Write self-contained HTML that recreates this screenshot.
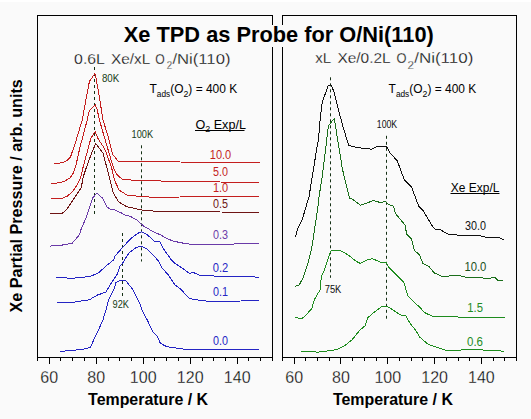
<!DOCTYPE html><html><head><meta charset="utf-8"><style>html,body{margin:0;padding:0;background:#fafafa;}svg{display:block;}text{font-family:"Liberation Sans",sans-serif;} .thin{stroke:#fafafa;stroke-width:0.28px;paint-order:normal;}</style></head><body>
<svg width="531" height="419" viewBox="0 0 531 419">
<rect x="0" y="0" width="531" height="419" fill="#fafafa"/>
<rect x="0" y="0" width="531" height="2" fill="#fff"/>
<rect x="37" y="15" width="236" height="1" fill="#000"/>
<rect x="37" y="357" width="236" height="1" fill="#000"/>
<rect x="37" y="15" width="1" height="343" fill="#000"/>
<rect x="272" y="15" width="1" height="343" fill="#000"/>
<rect x="37" y="358" width="1" height="3" fill="#000"/>
<rect x="49" y="358" width="1" height="6" fill="#000"/>
<rect x="60" y="358" width="1" height="3" fill="#000"/>
<rect x="72" y="358" width="1" height="3" fill="#000"/>
<rect x="84" y="358" width="1" height="3" fill="#000"/>
<rect x="96" y="358" width="1" height="6" fill="#000"/>
<rect x="108" y="358" width="1" height="3" fill="#000"/>
<rect x="119" y="358" width="1" height="3" fill="#000"/>
<rect x="131" y="358" width="1" height="3" fill="#000"/>
<rect x="143" y="358" width="1" height="6" fill="#000"/>
<rect x="154" y="358" width="1" height="3" fill="#000"/>
<rect x="166" y="358" width="1" height="3" fill="#000"/>
<rect x="178" y="358" width="1" height="3" fill="#000"/>
<rect x="190" y="358" width="1" height="6" fill="#000"/>
<rect x="202" y="358" width="1" height="3" fill="#000"/>
<rect x="213" y="358" width="1" height="3" fill="#000"/>
<rect x="225" y="358" width="1" height="3" fill="#000"/>
<rect x="237" y="358" width="1" height="6" fill="#000"/>
<rect x="248" y="358" width="1" height="3" fill="#000"/>
<rect x="260" y="358" width="1" height="3" fill="#000"/>
<rect x="272" y="358" width="1" height="3" fill="#000"/>
<rect x="282" y="15" width="235" height="1" fill="#000"/>
<rect x="282" y="357" width="235" height="1" fill="#000"/>
<rect x="282" y="15" width="1" height="343" fill="#000"/>
<rect x="516" y="15" width="1" height="343" fill="#000"/>
<rect x="282" y="358" width="1" height="3" fill="#000"/>
<rect x="294" y="358" width="1" height="6" fill="#000"/>
<rect x="305" y="358" width="1" height="3" fill="#000"/>
<rect x="317" y="358" width="1" height="3" fill="#000"/>
<rect x="329" y="358" width="1" height="3" fill="#000"/>
<rect x="340" y="358" width="1" height="6" fill="#000"/>
<rect x="352" y="358" width="1" height="3" fill="#000"/>
<rect x="364" y="358" width="1" height="3" fill="#000"/>
<rect x="376" y="358" width="1" height="3" fill="#000"/>
<rect x="387" y="358" width="1" height="6" fill="#000"/>
<rect x="399" y="358" width="1" height="3" fill="#000"/>
<rect x="411" y="358" width="1" height="3" fill="#000"/>
<rect x="422" y="358" width="1" height="3" fill="#000"/>
<rect x="434" y="358" width="1" height="6" fill="#000"/>
<rect x="446" y="358" width="1" height="3" fill="#000"/>
<rect x="458" y="358" width="1" height="3" fill="#000"/>
<rect x="469" y="358" width="1" height="3" fill="#000"/>
<rect x="481" y="358" width="1" height="6" fill="#000"/>
<rect x="493" y="358" width="1" height="3" fill="#000"/>
<rect x="504" y="358" width="1" height="3" fill="#000"/>
<rect x="516" y="358" width="1" height="3" fill="#000"/>
<rect x="118" y="25" width="322" height="22" fill="#fafafa"/>
<text x="123.8" y="41.8" font-size="21.6" fill="#000" font-weight="bold" text-anchor="start" textLength="310" lengthAdjust="spacingAndGlyphs" >Xe TPD as Probe for O/Ni(110)</text>
<text class="thin sub" x="74.1" y="63.5" font-size="15.5" fill="#000" textLength="30.8" lengthAdjust="spacingAndGlyphs">0.6L</text>
<text class="thin sub" x="111.0" y="63.5" font-size="15.5" fill="#000" textLength="39.2" lengthAdjust="spacingAndGlyphs">Xe/xL</text>
<text class="thin sub" x="155.2" y="63.5" font-size="15.5" fill="#000" textLength="9.5" lengthAdjust="spacingAndGlyphs">O</text>
<text class="thin sub" x="166.8" y="68.7" font-size="10" fill="#000" textLength="5.4" lengthAdjust="spacingAndGlyphs">2</text>
<text class="thin sub" x="172.4" y="63.5" font-size="15.5" fill="#000" textLength="58.1" lengthAdjust="spacingAndGlyphs">/Ni(110)</text>
<text class="thin sub" x="315.3" y="63.3" font-size="15.5" fill="#000" textLength="16.0" lengthAdjust="spacingAndGlyphs">xL</text>
<text class="thin sub" x="337.4" y="63.3" font-size="15.5" fill="#000" textLength="53.3" lengthAdjust="spacingAndGlyphs">Xe/0.2L</text>
<text class="thin sub" x="396.4" y="63.3" font-size="15.5" fill="#000" textLength="10.0" lengthAdjust="spacingAndGlyphs">O</text>
<text class="thin sub" x="407.6" y="68.5" font-size="10" fill="#000" textLength="6.5" lengthAdjust="spacingAndGlyphs">2</text>
<text class="thin sub" x="414.2" y="63.3" font-size="15.5" fill="#000" textLength="59.1" lengthAdjust="spacingAndGlyphs">/Ni(110)</text>
<text x="149.5" y="93.3" font-size="13" fill="#000" textLength="87.7" lengthAdjust="spacingAndGlyphs">T<tspan font-size="9" dy="3.8">ads</tspan><tspan dy="-3.8">(O</tspan><tspan font-size="9.5" dy="3.8">2</tspan><tspan dy="-3.8">) = 400 K</tspan></text>
<text x="388.6" y="93.3" font-size="13" fill="#000" textLength="87.7" lengthAdjust="spacingAndGlyphs">T<tspan font-size="9" dy="3.8">ads</tspan><tspan dy="-3.8">(O</tspan><tspan font-size="9.5" dy="3.8">2</tspan><tspan dy="-3.8">) = 400 K</tspan></text>
<text x="195.4" y="129.2" font-size="12.6" fill="#000">O<tspan font-size="9" dy="3">2</tspan><tspan dy="-3"> Exp/L</tspan></text>
<rect x="195" y="130" width="49.5" height="1" fill="#000"/>
<text x="450.8" y="191.9" font-size="12.6" fill="#000" font-weight="normal" text-anchor="start" textLength="48.6" lengthAdjust="spacingAndGlyphs" >Xe Exp/L</text>
<rect x="450.5" y="193" width="49" height="1" fill="#000"/>
<text x="209.8" y="158.6" font-size="12" fill="#c41e1e" font-weight="normal" text-anchor="start" textLength="21.4" lengthAdjust="spacingAndGlyphs" >10.0</text>
<text x="213" y="176.3" font-size="12" fill="#c41e1e" font-weight="normal" text-anchor="start" textLength="15" lengthAdjust="spacingAndGlyphs" >5.0</text>
<text x="212.9" y="191.9" font-size="12" fill="#c41e1e" font-weight="normal" text-anchor="start" textLength="15.3" lengthAdjust="spacingAndGlyphs" >1.0</text>
<text x="213" y="207.5" font-size="12" fill="#6e1414" font-weight="normal" text-anchor="start" textLength="15" lengthAdjust="spacingAndGlyphs" >0.5</text>
<text x="212.9" y="238.9" font-size="12" fill="#6a3aa8" font-weight="normal" text-anchor="start" textLength="15" lengthAdjust="spacingAndGlyphs" >0.3</text>
<text x="212.7" y="271.5" font-size="12" fill="#2424c4" font-weight="normal" text-anchor="start" textLength="15.5" lengthAdjust="spacingAndGlyphs" >0.2</text>
<text x="212.9" y="296" font-size="12" fill="#2424c4" font-weight="normal" text-anchor="start" textLength="15" lengthAdjust="spacingAndGlyphs" >0.1</text>
<text x="213" y="344.7" font-size="12" fill="#2424c4" font-weight="normal" text-anchor="start" textLength="15" lengthAdjust="spacingAndGlyphs" >0.0</text>
<text x="464.9" y="229.9" font-size="12" fill="#101010" font-weight="normal" text-anchor="start" textLength="21" lengthAdjust="spacingAndGlyphs" >30.0</text>
<text x="464.4" y="270.7" font-size="12" fill="#1a501a" font-weight="normal" text-anchor="start" textLength="22" lengthAdjust="spacingAndGlyphs" >10.0</text>
<text x="467.3" y="311.6" font-size="12" fill="#1e8c1e" font-weight="normal" text-anchor="start" textLength="15.7" lengthAdjust="spacingAndGlyphs" >1.5</text>
<text x="467" y="346" font-size="12" fill="#1e8c1e" font-weight="normal" text-anchor="start" textLength="16" lengthAdjust="spacingAndGlyphs" >0.6</text>
<text x="101.9" y="81.8" font-size="10.5" fill="#163c16" font-weight="normal" text-anchor="start" textLength="17.3" lengthAdjust="spacingAndGlyphs" >80K</text>
<text x="131.5" y="137.7" font-size="10.5" fill="#163c16" font-weight="normal" text-anchor="start" textLength="21.6" lengthAdjust="spacingAndGlyphs" >100K</text>
<text x="112.6" y="308" font-size="10.5" fill="#163c16" font-weight="normal" text-anchor="start" textLength="16.4" lengthAdjust="spacingAndGlyphs" >92K</text>
<text x="376.8" y="128.1" font-size="10.5" fill="#101010" font-weight="normal" text-anchor="start" textLength="20.4" lengthAdjust="spacingAndGlyphs" >100K</text>
<text x="324.7" y="293" font-size="10.5" fill="#101010" font-weight="normal" text-anchor="start" textLength="16.6" lengthAdjust="spacingAndGlyphs" >75K</text>
<line x1="94.5" y1="67" x2="94.5" y2="214" stroke="#153015" stroke-width="1" stroke-dasharray="3,3"/>
<line x1="141.5" y1="145.3" x2="141.5" y2="261.5" stroke="#153015" stroke-width="1" stroke-dasharray="3,3"/>
<line x1="122.5" y1="233" x2="122.5" y2="296" stroke="#153015" stroke-width="1" stroke-dasharray="3,3"/>
<line x1="330.5" y1="77.3" x2="330.5" y2="277.8" stroke="#153015" stroke-width="1" stroke-dasharray="3,3"/>
<line x1="386.5" y1="135.8" x2="386.5" y2="318.7" stroke="#153015" stroke-width="1" stroke-dasharray="3,3"/>
<path d="M54.1,163.5 L62.6,162.8 L67.3,160.4 L70.4,157.3 L75.8,141.5 L82.2,120.0 L87.2,93.0 L89.4,81.5 L94.8,73.6 L95.8,77.2 L98.7,93.0 L103.0,120.0 L107.6,134.8 L112.4,153.9 L116.6,159.4 L118.1,161.2 L124.8,162.0 L138.2,161.5 L157.3,161.2 L180.0,162.0 L200.0,162.5 L220.0,162.3 L240.0,162.7 L259.5,162.7" fill="none" stroke="#c41e1e" stroke-width="1" stroke-linejoin="round" shape-rendering="crispEdges"/>
<path d="M50.7,183.4 L58.7,182.9 L64.2,181.4 L69.6,178.3 L72.7,174.4 L75.8,165.9 L80.0,147.2 L87.2,120.0 L89.4,110.4 L95.1,104.7 L97.0,108.7 L99.4,120.0 L104.4,137.2 L111.5,161.5 L113.5,168.0 L117.2,174.9 L122.9,179.7 L138.2,180.3 L180.0,181.6 L220.0,182.0 L259.5,182.5" fill="none" stroke="#c41e1e" stroke-width="1" stroke-linejoin="round" shape-rendering="crispEdges"/>
<path d="M50.7,198.4 L62.6,198.1 L67.3,196.1 L72.7,191.4 L77.3,184.5 L80.4,178.3 L82.9,168.0 L90.8,138.6 L95.1,131.5 L98.0,138.6 L104.8,149.1 L111.5,167.3 L114.4,180.0 L119.1,190.0 L126.7,195.0 L141.7,196.7 L160.1,197.5 L180.0,197.0 L220.0,196.5 L259.5,196.1" fill="none" stroke="#c41e1e" stroke-width="1" stroke-linejoin="round" shape-rendering="crispEdges"/>
<path d="M49.7,213.1 L62.6,213.1 L67.3,208.5 L75.0,196.9 L81.2,187.6 L83.5,176.0 L86.2,168.0 L92.2,151.5 L95.8,143.6 L103.0,153.0 L110.1,180.0 L113.3,193.0 L118.4,201.7 L126.7,206.7 L141.7,210.0 L160.1,211.7 L180.0,211.7 L220.0,212.0 L259.5,212.3" fill="none" stroke="#6e1414" stroke-width="1" stroke-linejoin="round" shape-rendering="crispEdges"/>
<path d="M49.7,246.1 L61.5,245.2 L72.2,243.2 L79.7,234.4 L80.8,230.0 L86.2,217.3 L92.6,197.9 L96.9,193.2 L102.3,197.9 L106.6,206.5 L110.0,209.2 L114.1,209.7 L118.4,211.7 L121.6,213.0 L125.0,215.0 L130.0,216.2 L136.7,220.0 L143.4,225.9 L153.4,231.8 L160.0,234.6 L165.1,237.6 L172.4,240.8 L180.0,242.6 L190.1,244.2 L259.2,243.9" fill="none" stroke="#6a3aa8" stroke-width="1" stroke-linejoin="round" shape-rendering="crispEdges"/>
<path d="M56.1,277.3 L72.2,278.3 L90.0,276.5 L98.6,272.9 L106.6,265.4 L113.6,260.0 L115.2,255.8 L122.5,247.6 L130.0,239.3 L137.6,233.4 L141.7,231.8 L146.8,234.3 L154.3,241.0 L160.0,241.7 L162.6,247.5 L166.7,253.4 L170.9,259.2 L175.1,263.4 L185.1,270.1 L189.3,273.4 L193.5,272.6 L201.0,275.9 L210.0,275.9 L259.2,277.1" fill="none" stroke="#2424c4" stroke-width="1" stroke-linejoin="round" shape-rendering="crispEdges"/>
<path d="M57.2,302.4 L72.2,302.4 L89.4,299.8 L97.2,295.1 L105.8,292.2 L110.0,285.0 L117.2,274.3 L120.0,266.3 L121.9,264.3 L126.7,256.2 L129.5,252.4 L136.2,247.6 L141.5,246.2 L146.7,249.0 L152.5,254.3 L158.4,260.9 L161.7,267.6 L168.4,275.1 L175.1,285.1 L180.9,289.3 L189.3,298.5 L198.5,300.1 L210.0,301.5 L259.2,300.7" fill="none" stroke="#2424c4" stroke-width="1" stroke-linejoin="round" shape-rendering="crispEdges"/>
<path d="M60.0,351.4 L71.8,350.5 L82.8,349.2 L90.2,347.5 L98.8,329.2 L102.9,320.0 L106.1,309.6 L108.6,300.1 L114.3,288.6 L115.8,282.9 L118.6,281.2 L123.7,280.0 L125.8,280.8 L132.2,288.6 L140.1,304.4 L142.8,312.0 L147.3,320.0 L152.6,331.6 L157.5,336.5 L160.0,342.6 L164.8,345.8 L169.3,347.1 L184.8,349.3 L259.2,349.3" fill="none" stroke="#2424c4" stroke-width="1" stroke-linejoin="round" shape-rendering="crispEdges"/>
<path d="M295.5,236.7 L297.4,229.1 L300.3,223.4 L302.2,220.0 L305.0,210.0 L308.9,197.3 L313.6,168.6 L316.5,150.0 L318.4,140.0 L320.3,117.7 L322.2,102.5 L328.0,86.2 L330.8,84.3 L333.7,91.0 L338.5,110.1 L343.2,127.3 L347.0,140.0 L349.0,145.4 L352.8,146.4 L357.6,147.6 L365.0,148.6 L371.5,149.1 L378.2,146.2 L386.5,146.7 L390.0,152.7 L397.3,161.0 L404.4,180.0 L411.6,187.3 L418.8,206.4 L423.5,211.1 L431.9,225.5 L435.0,229.2 L440.7,229.9 L447.5,234.0 L465.5,236.0 L476.8,235.1 L488.1,237.8 L499.4,237.8 L504.0,240.0" fill="none" stroke="#101010" stroke-width="1" stroke-linejoin="round" shape-rendering="crispEdges"/>
<path d="M294.5,286.4 L299.3,284.8 L303.1,277.8 L307.9,263.5 L311.7,248.2 L314.6,229.1 L317.5,210.0 L319.3,195.0 L321.7,180.0 L325.5,150.0 L328.4,125.9 L334.3,118.4 L337.5,138.7 L339.4,150.0 L342.3,168.6 L349.5,198.0 L352.0,199.0 L360.3,205.2 L366.0,203.5 L373.4,200.4 L380.0,202.5 L385.3,201.6 L388.0,204.0 L393.7,206.4 L395.3,213.4 L404.9,224.9 L406.8,234.4 L411.6,239.2 L414.4,250.6 L419.2,254.5 L423.0,263.4 L428.7,266.2 L434.3,273.0 L436.4,273.9 L442.9,276.7 L457.2,275.0 L465.8,277.2 L477.3,277.2 L488.8,278.7 L494.5,277.2 L497.4,280.1 L503.1,280.1" fill="none" stroke="#1a6e1a" stroke-width="1" stroke-linejoin="round" shape-rendering="crispEdges"/>
<path d="M295.5,317.2 L301.2,319.1 L305.0,316.3 L311.7,308.6 L314.6,299.1 L320.3,289.5 L321.3,276.8 L323.2,273.0 L330.8,251.0 L334.6,250.1 L340.4,250.5 L348.0,254.9 L356.6,261.6 L360.2,263.4 L365.7,260.5 L372.4,258.6 L381.0,262.4 L386.7,263.0 L388.6,267.2 L395.3,273.9 L403.9,282.5 L407.7,295.8 L415.4,303.5 L420.0,307.3 L423.0,311.1 L425.7,313.1 L431.6,315.9 L434.3,316.8 L448.7,316.8 L477.3,317.4 L504.5,317.4" fill="none" stroke="#1e8c1e" stroke-width="1" stroke-linejoin="round" shape-rendering="crispEdges"/>
<path d="M301.2,351.6 L309.8,351.0 L317.5,352.2 L327.0,351.0 L336.5,349.7 L344.2,345.9 L351.8,340.1 L360.0,330.0 L365.0,325.8 L367.6,317.8 L374.3,312.1 L382.0,306.3 L386.7,306.3 L393.4,310.1 L400.1,314.9 L405.8,315.9 L409.6,322.6 L415.4,330.0 L420.0,337.4 L428.6,344.6 L437.2,347.4 L445.8,350.3 L477.3,349.7 L504.5,351.2" fill="none" stroke="#1e8c1e" stroke-width="1" stroke-linejoin="round" shape-rendering="crispEdges"/>
<text x="49.2" y="382.5" font-size="16" fill="#000" font-weight="normal" text-anchor="middle" class="thin" >60</text>
<text x="96.2" y="382.5" font-size="16" fill="#000" font-weight="normal" text-anchor="middle" class="thin" >80</text>
<text x="143.2" y="382.5" font-size="16" fill="#000" font-weight="normal" text-anchor="middle" class="thin" >100</text>
<text x="190.2" y="382.5" font-size="16" fill="#000" font-weight="normal" text-anchor="middle" class="thin" >120</text>
<text x="237.2" y="382.5" font-size="16" fill="#000" font-weight="normal" text-anchor="middle" class="thin" >140</text>
<text x="294.2" y="382.5" font-size="16" fill="#000" font-weight="normal" text-anchor="middle" class="thin" >60</text>
<text x="341.0" y="382.5" font-size="16" fill="#000" font-weight="normal" text-anchor="middle" class="thin" >80</text>
<text x="387.8" y="382.5" font-size="16" fill="#000" font-weight="normal" text-anchor="middle" class="thin" >100</text>
<text x="434.6" y="382.5" font-size="16" fill="#000" font-weight="normal" text-anchor="middle" class="thin" >120</text>
<text x="481.4" y="382.5" font-size="16" fill="#000" font-weight="normal" text-anchor="middle" class="thin" >140</text>
<text x="88.1" y="404.8" font-size="16" fill="#000" font-weight="bold" text-anchor="start" textLength="120" lengthAdjust="spacingAndGlyphs" >Temperature / K</text>
<text x="332.9" y="404.8" font-size="16" fill="#000" font-weight="bold" text-anchor="start" textLength="120" lengthAdjust="spacingAndGlyphs" >Temperature / K</text>
<text x="0" y="0" font-size="16" font-weight="bold" fill="#000" textLength="233.3" lengthAdjust="spacingAndGlyphs" transform="translate(21.7,312.5) rotate(-90)">Xe Partial Pressure / arb. units</text>
</svg></body></html>
